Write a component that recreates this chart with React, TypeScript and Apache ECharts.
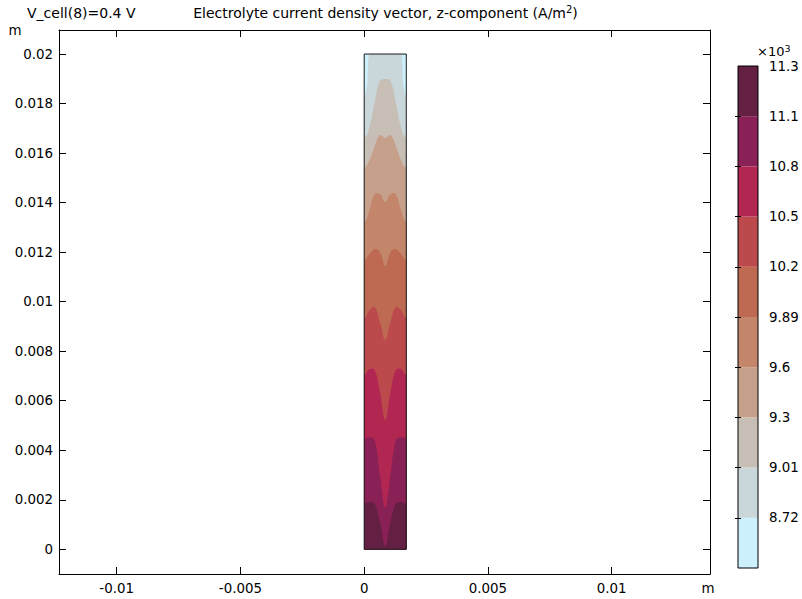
import { useEffect, useRef } from "react";
import * as echarts from "echarts";

// ---------- data ----------
const DOMAIN_WIDTH = 0.0017; // m
const DOMAIN_HEIGHT = 0.02; // m
const sampleXFractions = [0, 0.125, 0.25, 0.375, 0.5, 0.625, 0.75, 0.875, 1];

// contour lines (y in m at the sample x positions), level values x10^3 A/m^2
const contour872 = [0.01822, 0.02016, 0.0207, 0.0211, 0.0212, 0.0211, 0.0207, 0.02016, 0.01822];
const contour901 = [0.01661, 0.01705, 0.01806, 0.01891, 0.01899, 0.01891, 0.01806, 0.01705, 0.01661];
const contour930 = [0.0154, 0.01572, 0.01629, 0.01673, 0.01661, 0.01673, 0.01629, 0.01572, 0.0154];
const contour960 = [0.01322, 0.0137, 0.01435, 0.01435, 0.01402, 0.01435, 0.01435, 0.0137, 0.01322];
const contour989 = [0.01168, 0.01192, 0.01213, 0.012, 0.01144, 0.012, 0.01213, 0.01192, 0.01168];
const contour1020 = [0.00934, 0.00966, 0.00978, 0.00918, 0.00845, 0.00918, 0.00978, 0.00966, 0.00934];
const contour1050 = [0.00704, 0.00728, 0.00724, 0.00635, 0.00522, 0.00635, 0.00724, 0.00728, 0.00704];
const contour1080 = [0.00445, 0.00453, 0.00441, 0.003, 0.00167, 0.003, 0.00441, 0.00453, 0.00445];
const contour1110 = [0.00183, 0.00191, 0.00183, 0.0011, 0.00013, 0.0011, 0.00183, 0.00191, 0.00183];

const contourLevels = [
  contour872, contour901, contour930, contour960, contour989,
  contour1020, contour1050, contour1080, contour1110,
];

const bandColors = [
  "#CCF0FC", "#CAD7DA", "#C7BEB5", "#C6A08B", "#C3866A",
  "#BE6A52", "#BC4A4D", "#B12751", "#8A2156", "#632043",
];
const colorbarLabels = ["8.72", "9.01", "9.3", "9.6", "9.89", "10.2", "10.5", "10.8", "11.1", "11.3"];

const xTickValues = [-0.01, -0.005, 0, 0.005, 0.01];
const xTickLabels = ["-0.01", "-0.005", "0", "0.005", "0.01"];
const yTickValues = [0, 0.002, 0.004, 0.006, 0.008, 0.01, 0.012, 0.014, 0.016, 0.018, 0.02];
const yTickLabels = ["0", "0.002", "0.004", "0.006", "0.008", "0.01", "0.012", "0.014", "0.016", "0.018", "0.02"];

const X_MIN = -0.01233;
const X_MAX = 0.01397;
const Y_MIN = -0.000997;
const Y_MAX = 0.02097;

const FONT = "DejaVu Sans";
const TICK_FONT_SIZE = 13.4;

function labelFor(values: number[], labels: string[], v: number) {
  let best = 0;
  for (let i = 1; i < values.length; i++) {
    if (Math.abs(values[i] - v) < Math.abs(values[best] - v)) best = i;
  }
  return labels[best];
}

export default function App() {
  const ref = useRef<HTMLDivElement>(null);

  useEffect(() => {
    if (!ref.current) return;
    const chart = echarts.init(ref.current, undefined, { renderer: "svg" });
    const axisLine = { show: true, onZero: false, lineStyle: { color: "#000", width: 1 } };
    const W = DOMAIN_WIDTH;

    const option: any = {
      animation: false,
      backgroundColor: "#fff",
      grid: [
        { left: 59, top: 30, width: 651, height: 544, containLabel: false },
        { left: 738, top: 66, width: 20, height: 502, containLabel: false },
      ],
      xAxis: [
        {
          gridIndex: 0, type: "value", position: "bottom", min: X_MIN, max: X_MAX,
          axisLine,
          axisTick: { show: true, inside: true, length: 7, customValues: xTickValues, lineStyle: { color: "#000" } },
          axisLabel: {
            show: true, customValues: xTickValues, margin: 8, color: "#000", fontFamily: FONT, fontSize: TICK_FONT_SIZE,
            formatter: (v: number) => labelFor(xTickValues, xTickLabels, v),
          },
          splitLine: { show: false },
        },
        {
          gridIndex: 0, type: "value", position: "top", min: X_MIN, max: X_MAX,
          axisLine,
          axisTick: { show: true, inside: true, length: 7, customValues: xTickValues, lineStyle: { color: "#000" } },
          axisLabel: { show: false },
          splitLine: { show: false },
        },
        { gridIndex: 1, type: "value", min: 0, max: 1, show: false, splitLine: { show: false } },
      ],
      yAxis: [
        {
          gridIndex: 0, type: "value", position: "left", min: Y_MIN, max: Y_MAX,
          axisLine,
          axisTick: { show: true, inside: true, length: 7, customValues: yTickValues, lineStyle: { color: "#000" } },
          axisLabel: {
            show: true, customValues: yTickValues, margin: 6, color: "#000", fontFamily: FONT, fontSize: TICK_FONT_SIZE,
            formatter: (v: number) => labelFor(yTickValues, yTickLabels, v),
          },
          splitLine: { show: false },
        },
        {
          gridIndex: 0, type: "value", position: "right", min: Y_MIN, max: Y_MAX,
          axisLine,
          axisTick: { show: true, inside: true, length: 7, customValues: yTickValues, lineStyle: { color: "#000" } },
          axisLabel: { show: false },
          splitLine: { show: false },
        },
        {
          gridIndex: 1, type: "value", position: "right", min: 0, max: 10, z: 10,
          axisLine: { show: false },
          axisTick: { show: true, inside: true, length: 3, customValues: [1, 2, 3, 4, 5, 6, 7, 8, 9], lineStyle: { color: "#000" } },
          axisLabel: {
            show: true, customValues: [1, 2, 3, 4, 5, 6, 7, 8, 9, 10], margin: 11, color: "#000",
            fontFamily: FONT, fontSize: TICK_FONT_SIZE,
            formatter: (v: number) => colorbarLabels[Math.round(v) - 1] ?? "",
          },
          splitLine: { show: false },
        },
        {
          gridIndex: 1, type: "value", position: "left", min: 0, max: 10, z: 10,
          axisLine: { show: false },
          axisTick: { show: true, inside: true, length: 3, customValues: [1, 2, 3, 4, 5, 6, 7, 8, 9], lineStyle: { color: "#000" } },
          axisLabel: { show: false },
          splitLine: { show: false },
        },
      ],
      series: [
        {
          type: "custom",
          xAxisIndex: 0,
          yAxisIndex: 0,
          data: Array.from({ length: contourLevels.length + 2 }, (_, i) => [0, 0, i]),
          renderItem: (params: any, api: any) => {
            const i = params.dataIndex;
            const p0 = api.coord([0, 0]);
            const p1 = api.coord([W, DOMAIN_HEIGHT]);
            const rect = { x: p0[0], y: p1[1], width: p1[0] - p0[0], height: p0[1] - p1[1] };
            if (i === 0) {
              return { type: "rect", shape: rect, style: { fill: bandColors[0] } };
            }
            if (i > contourLevels.length) {
              return { type: "rect", shape: rect, style: { fill: "none", stroke: "#1a1a1a", lineWidth: 1 } };
            }
            const level = contourLevels[i - 1];
            const pts: number[][] = [];
            pts.push(api.coord([-0.3 * W, level[0]]));
            sampleXFractions.forEach((f, j) => pts.push(api.coord([f * W, level[j]])));
            pts.push(api.coord([1.3 * W, level[level.length - 1]]));
            pts.push(api.coord([1.3 * W, -0.0008]));
            pts.push(api.coord([-0.3 * W, -0.0008]));
            return {
              type: "polygon",
              shape: { points: pts, smooth: 0.4 },
              style: { fill: bandColors[i] },
              clipPath: { type: "rect", shape: rect },
            };
          },
        },
        {
          type: "custom",
          xAxisIndex: 2,
          yAxisIndex: 2,
          data: Array.from({ length: bandColors.length + 1 }, (_, i) => [0, i]),
          renderItem: (params: any, api: any) => {
            const i = params.dataIndex;
            if (i === bandColors.length) {
              const a = api.coord([0, 0]);
              const b = api.coord([1, 10]);
              return {
                type: "rect",
                shape: { x: a[0], y: b[1], width: b[0] - a[0], height: a[1] - b[1] },
                style: { fill: "none", stroke: "#000", lineWidth: 1 },
              };
            }
            const a = api.coord([0, i]);
            const b = api.coord([1, i + 1]);
            return {
              type: "rect",
              shape: { x: a[0], y: b[1], width: b[0] - a[0], height: a[1] - b[1] },
              style: { fill: bandColors[i] },
            };
          },
        },
      ],
      graphic: [
        {
          type: "text", x: 385.5, y: 13,
          style: {
            text: "{b|Electrolyte current density vector, z-component (A/m}{sup|2}{b|)}",
            fontFamily: FONT, fontSize: 14, fill: "#000", textAlign: "center", textVerticalAlign: "middle",
            rich: {
              b: { fontFamily: FONT, fontSize: 14, lineHeight: 17, fill: "#000" },
              sup: { fontFamily: FONT, fontSize: 10, verticalAlign: "top", lineHeight: 10, fill: "#000" },
            },
          },
        },
        {
          type: "text", x: 27, y: 13,
          style: {
            text: "V_cell(8)=0.4 V", fontFamily: FONT, fontSize: 14, fill: "#000",
            textAlign: "left", textVerticalAlign: "middle",
          },
        },
        {
          type: "text", x: 15, y: 30,
          style: { text: "m", fontFamily: FONT, fontSize: TICK_FONT_SIZE, fill: "#000", textAlign: "center", textVerticalAlign: "middle" },
        },
        {
          type: "text", x: 708, y: 588,
          style: { text: "m", fontFamily: FONT, fontSize: TICK_FONT_SIZE, fill: "#000", textAlign: "center", textVerticalAlign: "middle" },
        },
        {
          type: "text", x: 757, y: 51,
          style: {
            text: "{b|×10}{sup|3}", fontFamily: FONT, fontSize: 13, fill: "#000", textAlign: "left", textVerticalAlign: "middle",
            rich: {
              b: { fontFamily: FONT, fontSize: 13, lineHeight: 16, fill: "#000" },
              sup: { fontFamily: FONT, fontSize: 9.5, verticalAlign: "top", lineHeight: 9, fill: "#000" },
            },
          },
        },
      ],
    };

    chart.setOption(option);
    return () => chart.dispose();
  }, []);

  return (
    <div
      ref={ref}
      style={{ position: "fixed", left: 0, top: 0, width: 802, height: 599, background: "#fff" }}
    />
  );
}
